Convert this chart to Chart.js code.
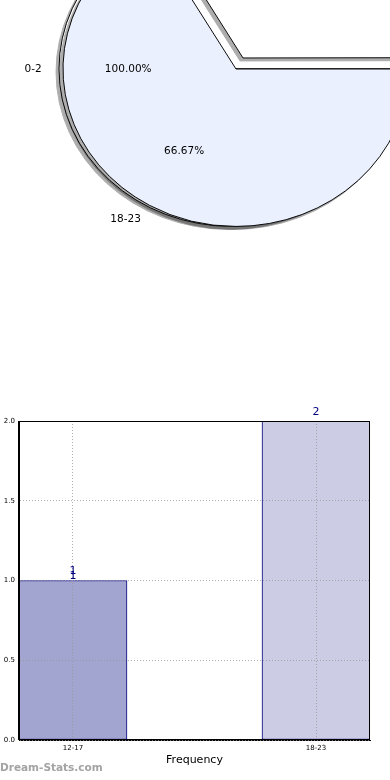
<!DOCTYPE html>
<html>
<head>
<meta charset="utf-8">
<script src="https://cdn.jsdelivr.net/npm/chart.js@4/dist/chart.umd.min.js"></script>
<style>
    html, body { margin: 0; padding: 0; overflow: hidden; background: #fff; }
    #wrap { position: relative; width: 390px; height: 780px; overflow: hidden; background: #fff; }
    .pie-layer { position: absolute; top: -161px; left: 0; }
    .shadowed { filter: drop-shadow(-3px 3px 0 rgba(0, 0, 0, 0.32)); }
    #ghost { left: -4px; }
    #bar { position: absolute; left: 0; top: 400px; }
    #watermark {
        position: absolute; left: 0; top: 761px;
        font: bold 10.5px "DejaVu Sans", sans-serif; color: #a3a3a3;
    }
</style>
</head>
<body>
<div id="wrap">
    <canvas id="ghost" class="pie-layer shadowed" width="472" height="460"></canvas>
    <canvas id="pie" class="pie-layer shadowed" width="472" height="460"></canvas>
    <canvas id="pieText" class="pie-layer" width="472" height="460"></canvas>
    <canvas id="bar" width="390" height="380"></canvas>
    <div id="watermark">Dream-Stats.com</div>
</div>
<script>
// Data
const categories = ['12-17', '18-23'];
const counts = [1, 2];
const barPositions = [0, 1];
const extraCountLabels = [1, null]; // second "1" printed a bit lower over the first bar
const yTicks = [0, 0.5, 1, 1.5, 2];

const pieCategories = ['12-17', '18-23'];
const pieCounts = [1, 2];
const pieExplode = [56, 0];

// hidden pie underneath, only its labels and left edge show
const ghostCategories = ['0-2'];
const ghostCounts = [1];

// Styles
const FONT = '"DejaVu Sans", sans-serif';
const PIE_SQUASH = 0.91;
const PIE_RADIUS = 173;

// Pie drawn as a slightly flattened ellipse
const squashPlugin = {
    id: 'squash',
    beforeDatasetsDraw(chart) {
        const arc = chart.getDatasetMeta(0).data[0];
        const ctx = chart.ctx;
        ctx.save();
        ctx.translate(arc.x, arc.y);
        ctx.scale(1, PIE_SQUASH);
        ctx.translate(-arc.x, -arc.y);
    },
    afterDatasetsDraw(chart) {
        chart.ctx.restore();
    }
};

function pieOptions(rotation) {
    return {
        responsive: false,
        animation: false,
        rotation: rotation,
        radius: PIE_RADIUS,
        layout: { padding: 0 },
        plugins: { legend: { display: false }, tooltip: { enabled: false } }
    };
}

// Hidden pie (0-2)
const ghostChart = new Chart(document.getElementById('ghost'), {
    type: 'pie',
    data: {
        labels: ghostCategories,
        datasets: [{
            data: ghostCounts,
            backgroundColor: ['#ffffff'],
            borderColor: '#000',
            borderWidth: 1
        }]
    },
    options: pieOptions(90),
    plugins: [squashPlugin]
});

// Main pie
const pieChart = new Chart(document.getElementById('pie'), {
    type: 'pie',
    data: {
        labels: pieCategories,
        datasets: [{
            data: pieCounts,
            backgroundColor: ['#ffffff', '#eaf0fd'],
            borderColor: '#000',
            borderWidth: 1,
            offset: pieExplode
        }]
    },
    options: pieOptions(-30),
    plugins: [squashPlugin]
});

// Labels of both pies go on a top layer without shadow
function drawPieLabels(chart, ctx) {
    const dx = chart.canvas.offsetLeft - ctx.canvas.offsetLeft;
    const ds = chart.data.datasets[0];
    const labels = chart.data.labels;
    const total = ds.data.reduce((a, b) => a + b, 0);
    ctx.save();
    ctx.font = '10.5px ' + FONT;
    ctx.fillStyle = '#000';
    ctx.textBaseline = 'middle';
    chart.getDatasetMeta(0).data.forEach((arc, i) => {
        const mid = (arc.startAngle + arc.endAngle) / 2;
        const cos = Math.cos(mid);
        const sin = Math.sin(mid);
        const shift = ((ds.offset && ds.offset[i]) || 0) / 4;
        const cx = arc.x + dx + cos * shift;
        const cy = arc.y + sin * shift * PIE_SQUASH;
        const r = arc.outerRadius;

        ctx.textAlign = cos >= 0 ? 'left' : 'right';
        ctx.fillText(labels[i], cx + cos * r * 1.1, cy + sin * r * 1.1 * PIE_SQUASH);

        ctx.textAlign = 'center';
        const pct = (ds.data[i] / total * 100).toFixed(2) + '%';
        ctx.fillText(pct, cx + cos * r * 0.6, cy + sin * r * 0.6 * PIE_SQUASH);
    });
    ctx.restore();
}

const textCtx = document.getElementById('pieText').getContext('2d');
drawPieLabels(ghostChart, textCtx);
drawPieLabels(pieChart, textCtx);

// Frame + value labels for the bar chart
const barExtrasPlugin = {
    id: 'barExtras',
    afterDraw(chart) {
        const ctx = chart.ctx;
        const a = chart.chartArea;
        ctx.save();
        ctx.strokeStyle = '#000';
        ctx.lineWidth = 1;
        const l = Math.round(a.left) - 0.5;
        const t = Math.round(a.top) + 0.5;
        ctx.strokeRect(l, t, Math.round(a.right) - Math.round(a.left), Math.round(a.bottom) - Math.round(a.top) - 1);

        ctx.font = '11px ' + FONT;
        ctx.fillStyle = '#000080';
        ctx.textAlign = 'center';
        ctx.textBaseline = 'middle';
        chart.getDatasetMeta(0).data.forEach((bar, i) => {
            ctx.fillText(String(counts[i]), bar.x, bar.y - 9);
            if (extraCountLabels[i] !== null) {
                ctx.fillText(String(extraCountLabels[i]), bar.x, bar.y - 4);
            }
        });
        ctx.restore();
    }
};

const tickFont = { family: FONT, size: 7 };

new Chart(document.getElementById('bar'), {
    type: 'bar',
    data: {
        datasets: [{
            data: barPositions.map((x, i) => ({ x: x, y: counts[i] })),
            backgroundColor: ['#a3a5d1', '#cccde5'],
            borderColor: '#000080',
            borderWidth: 1,
            borderSkipped: false,
            barThickness: 108
        }]
    },
    options: {
        responsive: false,
        animation: false,
        layout: { padding: { top: 21, right: 20, left: 0, bottom: 0 } },
        plugins: { legend: { display: false }, tooltip: { enabled: false } },
        scales: {
            x: {
                type: 'linear',
                offset: false,
                min: -0.22222,
                max: 1.22222,
                afterBuildTicks: (scale) => { scale.ticks = barPositions.map(v => ({ value: v })); },
                afterFit: (scale) => { scale.height = 40; },
                ticks: {
                    callback: (v) => categories[barPositions.indexOf(v)],
                    font: tickFont,
                    color: '#000',
                    padding: 1,
                    maxRotation: 0,
                    autoSkip: false
                },
                grid: { offset: false, z: 1, color: 'rgba(150,150,150,0.75)', tickLength: 3, tickColor: 'rgba(0,0,0,0)' },
                border: { display: true, z: 1, color: '#000', dash: [1, 2] },
                title: {
                    display: true,
                    text: 'Frequency',
                    color: '#000',
                    font: { family: FONT, size: 11 },
                    padding: { top: 0, bottom: 13 }
                }
            },
            y: {
                min: 0,
                max: 2,
                afterBuildTicks: (scale) => { scale.ticks = yTicks.map(v => ({ value: v })); },
                afterFit: (scale) => { scale.width = 19; },
                ticks: {
                    callback: (v) => v.toFixed(1),
                    font: tickFont,
                    color: '#000',
                    padding: 1
                },
                grid: { z: 1, color: 'rgba(150,150,150,0.75)', tickLength: 3, tickColor: 'rgba(0,0,0,0)' },
                border: { display: true, z: 1, color: '#000', dash: [1, 2] }
            }
        }
    },
    plugins: [barExtrasPlugin]
});
</script>
</body>
</html>
